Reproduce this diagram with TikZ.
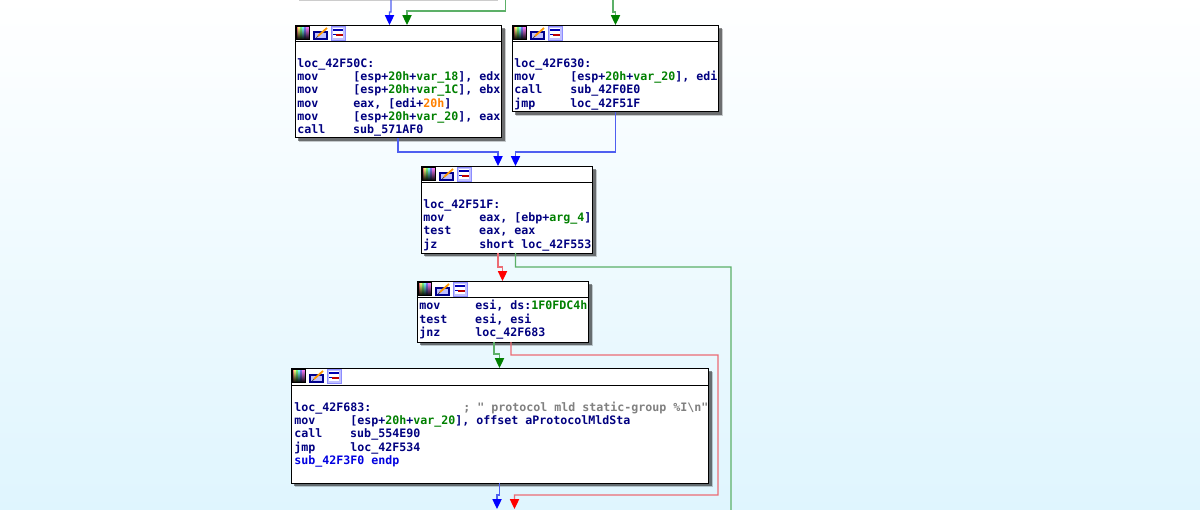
\documentclass[tikz,border=0pt]{standalone}
\usepackage{fontspec}
\usepackage{xcolor}
\usetikzlibrary{arrows.meta, calc, shadows}
\newfontfamily\idafont{DejaVu Sans Mono}

\definecolor{idanavy}{HTML}{000080}
\definecolor{idagreen}{HTML}{008000}
\definecolor{idaorange}{HTML}{FF8000}
\definecolor{idagrey}{HTML}{808080}
\definecolor{idablue}{HTML}{0000E0}
\definecolor{pagetop}{HTML}{FFFFFF}
\definecolor{pagebottom}{HTML}{DFF5FE}
\definecolor{edgeblue}{HTML}{4F5FF0}
\definecolor{edgegreen}{HTML}{5CB068}
\definecolor{edgered}{HTML}{EC6C74}

\newcommand{\ins}[2]{\makebox[39.8pt][l]{#1}#2}
\newcommand{\vr}[1]{\textcolor{idagreen}{#1}}

% the three small buttons of a box title bar
\newcommand{\boxicons}[1]{
	\begin{scope}[shift={(#1)}]
		\foreach \i/\c in {0/red,2/yellow,4/green,6/cyan,8/blue,10/magenta}
			\shade[top color=\c!50!white, middle color=\c, bottom color=black] (\i+1.5,1.5) rectangle +(2,13);
		\draw[black, line width=0.6pt] (1.5,1.5) rectangle (14.5,14.5);
		\fill[blue!55!black] (18,6) rectangle (33,15);
		\fill[blue!25] (20,8) rectangle (31,13);
		\draw[orange!80!yellow, line width=1.3pt] (23,11) -- (32,3);
		\draw[black!70, line width=0.5pt] (21,13) -- (23,11);
		\fill[blue!25] (36,1) rectangle (50,15);
		\fill[white] (38,3) rectangle (48,13);
		\fill[blue!70!black] (38,4) rectangle (48,6);
		\draw[blue!70!black, line width=0.6pt] (38,9) -- (41,9);
		\fill[red!75!black] (41,8.5) rectangle (48,11);
		\draw[blue!45, line width=0.5pt] (36,1) rectangle (50,15);
	\end{scope}
}

\tikzset{
	idabox/.style={draw=black, fill=white, line width=0.7pt, anchor=north west, inner sep=0pt, outer sep=0pt,
		drop shadow={shadow xshift=2.8pt, shadow yshift=-2.8pt, fill=black, opacity=0.2},
		drop shadow={shadow xshift=2pt, shadow yshift=-2pt, fill=black, opacity=0.45}},
	code/.style={anchor=north west, inner sep=0pt, align=left, text=idanavy,
		font=\idafont\bfseries\fontsize{8.27}{9.5}\selectfont},
	jmpblue/.style={draw=edgeblue, line width=0.9pt, -{Triangle[color=blue, length=7pt, width=6.5pt]}},
	jmpgreen/.style={draw=edgegreen, line width=0.9pt, -{Triangle[color=green!50!black, length=7pt, width=6.5pt]}},
	jmpred/.style={draw=edgered, line width=0.9pt, -{Triangle[color=red, length=7pt, width=6.5pt]}}
}

\begin{document}
\begin{tikzpicture}[x=0.025cm, y=-0.025cm]
	\useasboundingbox (0,0) rectangle (1200,509);
	\shade[top color=pagetop, bottom color=pagebottom] (0,0) rectangle (1200,509);

	\coordinate (c2) at (505.5,0);
	\coordinate (c3) at (613,0);
	\coordinate (c4) at (731,530);
	\coordinate (c5) at (497,509);
	\coordinate (c6) at (514.5,509);

	\draw (295,-43) node[idabox, minimum width=199*0.711pt, minimum height=40*0.711pt] (lprev) {}
		(295,25) node[idabox, minimum width=207*0.711pt, minimum height=113*0.711pt] (l50c) {}
		(512,25) node[idabox, minimum width=207*0.711pt, minimum height=87*0.711pt] (l630) {}
		(421,166) node[idabox, minimum width=172*0.711pt, minimum height=87*0.711pt] (l51f) {}
		(417,281) node[idabox, minimum width=172*0.711pt, minimum height=61*0.711pt] (lmov) {}
		(291,368) node[idabox, minimum width=418*0.711pt, minimum height=115*0.711pt] (l683) {};

	\draw[line width=0.7pt] (295,41) -- (502,41);
	\draw[line width=0.7pt] (512,41) -- (719,41);
	\draw[line width=0.7pt] (421,182) -- (593,182);
	\draw[line width=0.7pt] (417,297) -- (589,297);
	\draw[line width=0.7pt] (291,385) -- (709,385);

	\boxicons{295,25}
	\boxicons{512,25}
	\boxicons{421,166}
	\boxicons{417,281}
	\boxicons{291,368}

	\node[code] (t50c) at (297,58) {loc\_42F50C:\\
		\ins{mov}{[esp+\vr{20h}+\vr{var\_18}], edx}\\
		\ins{mov}{[esp+\vr{20h}+\vr{var\_1C}], ebx}\\
		\ins{mov}{eax, [edi+\textcolor{idaorange}{20h}]}\\
		\ins{mov}{[esp+\vr{20h}+\vr{var\_20}], eax}\\
		\ins{call}{sub\_571AF0}};
	\node[code] (t630) at (514,58) {loc\_42F630:\\
		\ins{mov}{[esp+\vr{20h}+\vr{var\_20}], edi}\\
		\ins{call}{sub\_42F0E0}\\
		\ins{jmp}{loc\_42F51F}};
	\node[code] (t51f) at (423,199) {loc\_42F51F:\\
		\ins{mov}{eax, [ebp+\vr{arg\_4}]}\\
		\ins{test}{eax, eax}\\
		\ins{jz}{short loc\_42F553}};
	\node[code] (tmov) at (419,300) {\ins{mov}{esi, ds:\vr{1F0FDC4h}}\\
		\ins{test}{esi, esi}\\
		\ins{jnz}{loc\_42F683}};
	\node[code] (t683) at (294,401.3) {\makebox[120.2pt][l]{loc\_42F683:}\textcolor{idagrey}{; " protocol mld static-group \%I\textbackslash n"}\\
		\ins{mov}{[esp+\vr{20h}+\vr{var\_20}], offset aProtocolMldSta}\\
		\ins{call}{sub\_554E90}\\
		\ins{jmp}{loc\_42F534}\\
		\textcolor{idablue}{sub\_42F3F0 endp}};

	\draw[jmpblue] ($(lprev.south west)+(96,0)$) -- ++(0,15) -- ++(-1.5,0) -- ($(l50c.north west)+(94.5,0)$);
	\draw[jmpgreen] (c2) -- ++(0,11) -- ++(-98.5,0) -- ($(l50c.north west)+(112,0)$);
	\draw[jmpgreen] (c3) -- ++(0,12) -- ++(2.5,0) -- ($(l630.north west)+(103.5,0)$);
	\draw[jmpblue] ($(l50c.south west)+(103,0)$) -- ++(0,14) -- ++(100,0) -- ($(l51f.north west)+(77,0)$);
	\draw[jmpblue] ($(l630.south west)+(103.5,0)$) -- ++(0,40) -- ++(-100,0) -- ($(l51f.north west)+(94.5,0)$);
	\draw[jmpred] ($(l51f.south west)+(77,0)$) -- ++(0,14) -- ++(4.5,0) -- ($(lmov.north west)+(85.5,0)$);
	\draw[jmpgreen] ($(l51f.south west)+(94.5,0)$) -- ++(0,14) -- ++(215.5,0) -- (c4);
	\draw[jmpgreen] ($(lmov.south west)+(77,0)$) -- ++(0,12) -- ++(5.5,0) -- ($(l683.north west)+(208.5,0)$);
	\draw[jmpred] ($(lmov.south west)+(94,0)$) -- ++(0,13) -- ++(207,0) -- ++(0,140) -- ++(-203.5,0) -- (c6);
	\draw[jmpblue] ($(l683.south west)+(208.5,0)$) -- ++(0,12) -- ++(-2.5,0) -- (c5);
\end{tikzpicture}
\end{document}
